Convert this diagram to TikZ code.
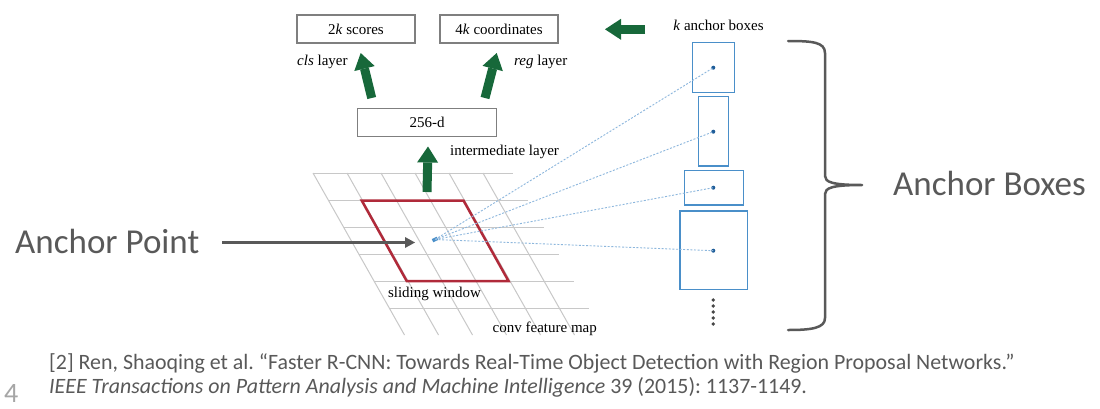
\documentclass[tikz,border=0pt]{standalone}
\usepackage{fontspec}
\setmainfont{Liberation Serif}
\newfontfamily\slidefont{Carlito}
\usetikzlibrary{arrows.meta}
\frenchspacing
\definecolor{gridgray}{HTML}{C8C8C8}
\definecolor{winred}{HTML}{B02A3A}
\definecolor{arrgreen}{HTML}{17683A}
\definecolor{boxblue}{HTML}{4A8FC9}
\definecolor{dotblue}{HTML}{1F5D99}
\definecolor{dashblue}{HTML}{8DB7DD}
\definecolor{slidegray}{HTML}{595959}
\definecolor{boxgray}{HTML}{7F7F7F}
\definecolor{pagegray}{HTML}{A6A6A6}
\begin{document}
\begin{tikzpicture}[x=1pt,y=-1pt,
  layerbox/.style={draw=boxgray, line width=1.2pt, minimum height=28pt, inner sep=0pt, font=\fontsize{15}{18}\selectfont},
  lbl/.style={inner sep=0pt, font=\fontsize{15}{18}\selectfont},
  gridline/.style={draw=gridgray, line width=1pt},
  window/.style={draw=winred, line width=2.5pt, line join=miter},
  garrow/.style={draw=arrgreen, line width=9pt, -{Triangle[width=21pt,length=16pt,line width=0pt]}},
  pointer/.style={draw=slidegray, line width=2.5pt, -{Triangle[width=11pt,length=10pt,line width=0pt]}},
  raydash/.style={draw=dashblue, line width=0.9pt, dash pattern=on 2pt off 1.6pt},
  anchorbox/.style={draw=boxblue, line width=1.3pt, inner sep=0pt},
  cdot/.style={circle, fill=dotblue, minimum size=4pt, inner sep=0pt},
  vdot/.style={circle, fill=slidegray!80!black, minimum size=3.8pt, inner sep=0pt},
  slidetxt/.style={inner sep=0pt, text=slidegray, font=\slidefont\fontsize{35}{40}\selectfont},
  citetxt/.style={inner sep=0pt, text=slidegray, font=\slidefont\fontsize{21.9}{25}\selectfont},
  brace/.style={draw=slidegray, line width=2.5pt, line join=round, line cap=round}]
\useasboundingbox (0,0) rectangle (1100,408);
\fill[white] (0,0) rectangle (1100,408);

% conv feature map grid
\foreach \k in {0,...,5}
  \draw[gridline] ({313+15.25*\k},{173+27*\k}) -- ({513+15.25*\k},{173+27*\k});
\foreach \i in {0,...,5}
  \draw[gridline] ({313+34*\i},173) -- ({404.5+34*\i},335);

% sliding window
\draw[window] (361.7,200.5) -- (463.5,200.5) -- (508.5,281) -- (406.7,281) -- cycle;

% layer boxes
\node[layerbox, minimum width=118pt] (cls) at (356,29) {2\textit{k} scores};
\node[layerbox, minimum width=118pt] (reg) at (499,29) {4\textit{k} coordinates};
\node[layerbox, minimum width=139pt] (mid) at (427.2,122.5) {256-d};
\node[lbl, anchor=base west] (clsl) at (297,65) {\textit{cls} layer};
\node[lbl, anchor=base west] (regl) at (514,65) {\textit{reg} layer};
\node[lbl, anchor=base west] (midl) at (450,155) {intermediate layer};
\node[lbl, anchor=base] (kab) at (718.5,30) {\textit{k} anchor boxes};
\node[lbl, anchor=base] (swl) at (434.5,297) {sliding window};
\node[lbl, anchor=base west] (cfm) at (492.5,332.7) {conv feature map};

% green arrows
\coordinate (g1s) at (371.7,98);
\coordinate (g1e) at (360.7,53);
\coordinate (g2s) at (485,98);
\coordinate (g2e) at (496.7,53);
\coordinate (g3s) at (427,192);
\coordinate (g3e) at (428,146.5);
\coordinate (g4s) at (645,29.3);
\coordinate (g4e) at (605,29.3);
\draw[garrow] (g1s) -- (g1e);
\draw[garrow] (g2s) -- (g2e);
\draw[garrow] (g3s) -- (g3e);
\draw[garrow] (g4s) -- (g4e);

% anchor boxes
\node[anchorbox, minimum width=42pt, minimum height=49.6pt] (b1) at (713.3,67.5) {};
\node[anchorbox, minimum width=30pt, minimum height=69.3pt] (b2) at (713.3,131.3) {};
\node[anchorbox, minimum width=59pt, minimum height=34.3pt] (b3) at (713.8,187.8) {};
\node[anchorbox, minimum width=67.3pt, minimum height=78.3pt] (b4) at (713.6,250.2) {};
\node[cdot] (d1) at (713.3,67.7) {};
\node[cdot] (d2) at (713.3,131.7) {};
\node[cdot] (d3) at (713.3,187.7) {};
\node[cdot] (d4) at (713.3,250.7) {};
\foreach \j in {0,...,4}
  \node[vdot] (v\j) at (713.3,{300+6*\j}) {};

% anchor point and rays
\node[fill=boxblue, minimum width=5.5pt, minimum height=3.5pt, inner sep=0pt, rotate=25] (anc) at (435,239.5) {};
\foreach \d in {d1,d2,d3,d4}
  \draw[raydash] (anc.center) -- (\d.center);

% slide annotations
\node[slidetxt, anchor=base west] (apt) at (15,253) {Anchor Point};
\coordinate (aptail) at (222,242.5);
\coordinate (aphead) at (415,242.5);
\draw[pointer] (aptail) -- (aphead);

\draw[brace] (788,41) .. controls (812,41) and (825,42) .. (825,53) -- (825,176) .. controls (825,182) and (832,185) .. (862,185) .. controls (832,185) and (825,188) .. (825,194) -- (825,318) .. controls (825,328) and (812,330) .. (788,330);
\node[slidetxt, anchor=base west] (abx) at (893,195) {Anchor Boxes};

% citation
\node[citetxt, anchor=base west] (cite1) at (49,369.3) {[2] Ren, Shaoqing et al. “Faster R-CNN: Towards Real-Time Object Detection with Region Proposal Networks.”};
\node[citetxt, anchor=base west] (cite2) at (49,393.3) {\textit{IEEE Transactions on Pattern Analysis and Machine Intelligence} 39 (2015): 1137-1149.};
\node[inner sep=0pt, anchor=base west, text=pagegray, font=\slidefont\fontsize{28}{32}\selectfont] (pnum) at (4,402) {4};
\end{tikzpicture}
\end{document}
